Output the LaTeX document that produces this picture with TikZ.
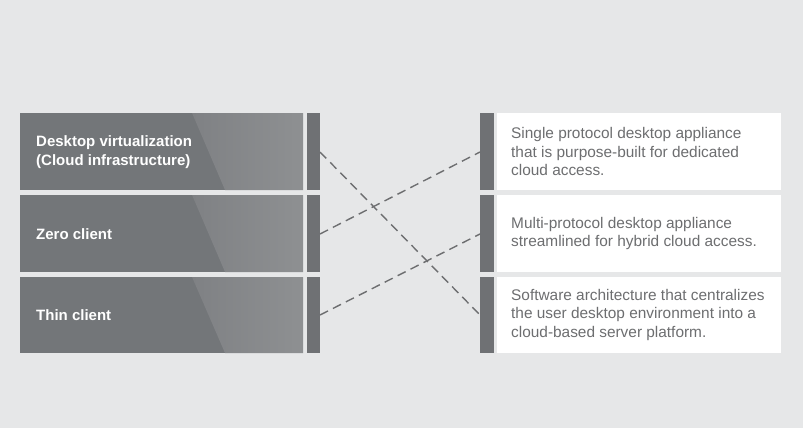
\documentclass[tikz,border=0pt]{standalone}
\usepackage{fontspec}
\setmainfont{Liberation Sans}
\definecolor{bg}{HTML}{E6E7E8}
\definecolor{boxdark}{HTML}{737679}
\definecolor{boxlightA}{HTML}{7F8184}
\definecolor{boxlightB}{HTML}{8E9092}
\definecolor{bar}{HTML}{6F7174}
\definecolor{desc}{HTML}{6D6E70}
\definecolor{dashc}{HTML}{6D6E70}
\tikzset{
  x=1pt, y=-1pt,
  leftlabel/.style={anchor=west, text=white, font=\fontsize{15}{19}\selectfont\bfseries, align=left, inner sep=0pt},
  desclabel/.style={anchor=west, text=desc, font=\fontsize{15.4}{18.6}\selectfont, align=left, inner sep=0pt},
  barbox/.style={fill=bar, draw=none},
  whitebox/.style={fill=white, draw=none},
  link/.style={draw=dashc, line width=1.4pt, dash pattern=on 9pt off 5.5pt},
}
\newcommand{\leftbox}[2]{%
  % solid body plus lighter slanted panel on the right
  \fill[boxdark] (20,#1) rectangle (303,#2);
  \shade[left color=boxlightA, right color=boxlightB]
    (192,#1) -- (303,#1) -- (303,#2) -- (225,#2) -- cycle;
}
\begin{document}
\begin{tikzpicture}
\fill[bg] (0,0) rectangle (803,428);
\useasboundingbox (0,0) rectangle (803,428);

% left column
\leftbox{113}{190}
\leftbox{195}{272}
\leftbox{277}{353}
\node[leftlabel] (t1) at (36,152) {Desktop virtualization\\(Cloud infrastructure)};
\node[leftlabel] (t2) at (36,234) {Zero client};
\node[leftlabel] (t3) at (36,315) {Thin client};

% connector bars on the left
\path[barbox] (307,113) rectangle (320,190);
\path[barbox] (307,195) rectangle (320,272);
\path[barbox] (307,277) rectangle (320,353);
\coordinate (l1) at (320,152);
\coordinate (l2) at (320,234);
\coordinate (l3) at (320,315);

% connector bars on the right
\path[barbox] (480,113) rectangle (494,190);
\path[barbox] (480,195) rectangle (494,272);
\path[barbox] (480,277) rectangle (494,353);
\coordinate (r1) at (480,152);
\coordinate (r2) at (480,234);
\coordinate (r3) at (480,315);

% description boxes
\path[whitebox] (497,113) rectangle (781,190);
\path[whitebox] (497,195) rectangle (781,272);
\path[whitebox] (497,277) rectangle (781,353);
\node[desclabel] (d1) at (511,151.5) {Single protocol desktop appliance\\that is purpose-built for dedicated\\cloud access.};
\node[desclabel] (d2) at (511,233.5) {Multi-protocol desktop appliance\\streamlined for hybrid cloud access.};
\node[desclabel] (d3) at (511,315) {Software architecture that centralizes\\the user desktop environment into a\\cloud-based server platform.};

% matching links
\draw[link] (l1) -- (r3);
\draw[link] (l2) -- (r1);
\draw[link] (l3) -- (r2);
\end{tikzpicture}
\end{document}
